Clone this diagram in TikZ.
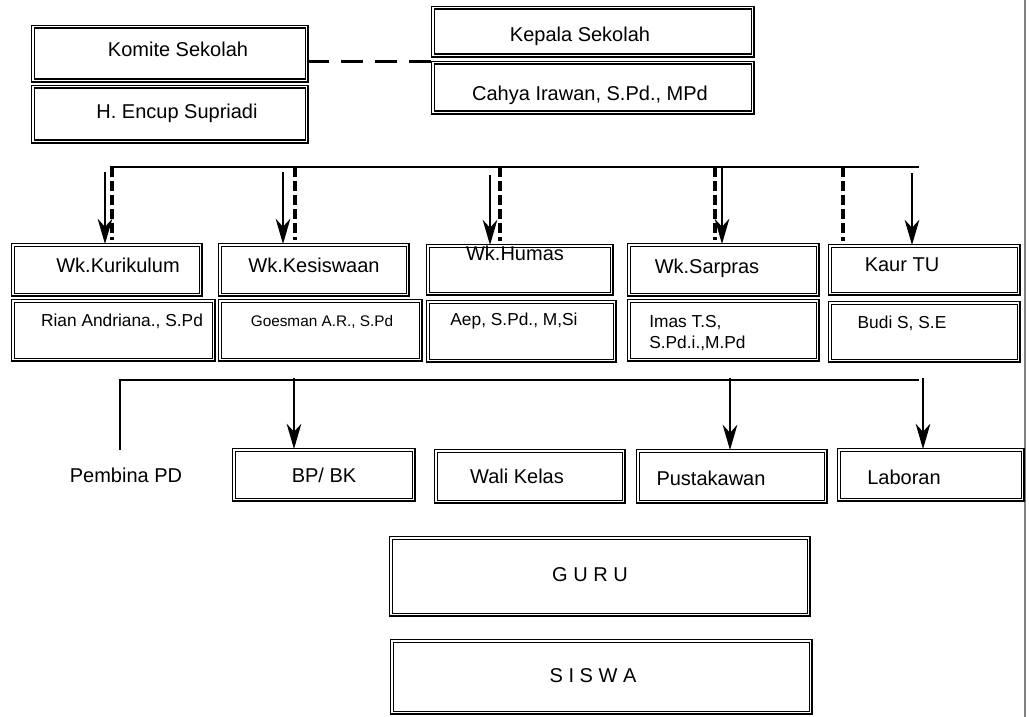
\documentclass[tikz,border=0pt]{standalone}
\usepackage{fontspec}
\setmainfont{Liberation Sans}
\usepackage{tikz}
\usetikzlibrary{arrows.meta,calc}

\begin{document}
\begin{tikzpicture}[x=0.75pt, y=-0.75pt,
    orgbox/.style={draw, line width=0.95pt, double, double distance=1.2pt, inner sep=0pt, anchor=north west},
    lbl/.style={anchor=base, inner sep=0pt, font=\fontsize{15}{18}\selectfont},
    sublbl/.style={anchor=base, inner sep=0pt, font=\fontsize{13}{15.75}\selectfont},
    arr/.style={line width=1.6pt, -{Stealth[length=19pt, width=11pt, inset=6pt]}},
    dashln/.style={line width=2.6pt, dash pattern=on 7.5pt off 3pt},
    busln/.style={line width=1.5pt}]

    \useasboundingbox (0,0) rectangle (1029,717);

    % page edge
    \draw[gray, line width=1.5pt] (1025,0) -- (1025,717);

    % boxes: name/left/top/right/bottom (in px)
    \foreach \n/\xa/\ya/\xb/\yb in {kom/30/24/308/82, enc/30/84/308/143,
        kep/430/5/754/57, cah/430/60/754/114,
        kur/10/242/202/296, rian/10/298/215/361,
        kes/217/242/409/296, goe/217/298/422/361,
        hum/425/243/613/295, aep/425/299/616/362,
        sar/626/242/819/296, imas/626/298/819/361,
        kaur/827/243/1020/295, budi/827/300/1020/362,
        bpbk/231/447/415/501, wali/433/448/625/503,
        pus/635/448/827/503, lab/836/447/1024/501,
        guru/388/535/810/616, siswa/389/638/812/714} {
        \node[orgbox, minimum width={(\xb-\xa)*0.75pt-3.1pt}, minimum height={(\yb-\ya)*0.75pt-3.1pt}]
            (\n) at ([shift={(1.55pt,-1.55pt)}]\xa,\ya) {};
    }

    % texts
    \node[lbl] (komT) at (178,57) {Komite Sekolah};
    \node[lbl] (encT) at (177,118) {H. Encup Supriadi};
    \node[lbl] (kepT) at (580,42) {Kepala Sekolah};
    \node[lbl] (cahT) at (590,101) {Cahya Irawan, S.Pd., MPd};
    \node[lbl] (kurT) at (118,272) {Wk.Kurikulum};
    \node[lbl] (kesT) at (314,272) {Wk.Kesiswaan};
    \node[lbl] (humT) at (515,260) {Wk.Humas};
    \node[lbl] (sarT) at (707,273) {Wk.Sarpras};
    \node[lbl] (kaurT) at (902,271) {Kaur TU};
    \node[sublbl] (rianT) at (122,326) {Rian Andriana., S.Pd};
    \node[sublbl, font=\fontsize{11.5}{14}\selectfont] (goeT) at (322,326) {Goesman A.R., S.Pd};
    \node[sublbl] (aepT) at (514,325) {Aep, S.Pd., M,Si};
    \node[sublbl, anchor=north west, align=left] (imasT) at (649,315.5) {Imas T.S,\\S.Pd.i.,M.Pd};
    \node[sublbl] (budiT) at (902,328) {Budi S, S.E};
    \node[lbl] (pemT) at (126,482) {Pembina PD};
    \node[lbl] (bpbkT) at (324,482) {BP/ BK};
    \node[lbl] (waliT) at (517,483) {Wali Kelas};
    \node[lbl] (pusT) at (711,485) {Pustakawan};
    \node[lbl] (labT) at (904,484) {Laboran};
    \node[lbl] (guruT) at (590,581) {G U R U};
    \node[lbl] (siswaT) at (593,682) {S I S W A};

    % komite -- kepala
    \coordinate (d1) at ([yshift=-6pt]kom.east);
    \draw[line width=2.2pt, dash pattern=on 16.5pt off 9pt] (d1) -- (d1 -| kep.west);

    % upper bus
    \coordinate (busA) at (110,167);
    \coordinate (busB) at (919,167);
    \draw[busln] (busA) -- (busB);
    \foreach \x/\n in {112/kur, 295/kes, 500/hum, 715/sar, 843/kaur} {
        \coordinate (t) at (\x,167);
        \draw[dashln, shorten >=3pt] (t) -- (t |- \n.north);
    }
    \foreach \x/\y/\n in {105/172/kur, 283/172/kes, 490/175/hum, 722/167/sar, 912/173/kaur} {
        \coordinate (s) at (\x,\y);
        \draw[arr] (s) -- (s |- \n.north);
    }

    % lower bus
    \coordinate (busC) at (120,380);
    \coordinate (busD) at (919,380);
    \draw[busln] (busD) -- (busC) -- ++(0,70);
    \foreach \x/\n in {294/bpbk, 730/pus, 923/lab} {
        \coordinate (s) at (\x,378);
        \draw[arr] (s) -- (s |- \n.north);
    }

\end{tikzpicture}
\end{document}
